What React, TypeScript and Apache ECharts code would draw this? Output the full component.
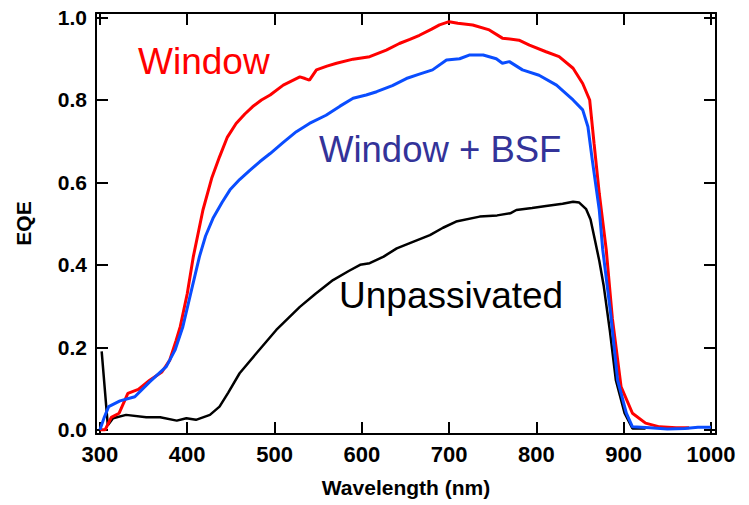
import React, { useEffect, useRef } from "react";
import * as echarts from "echarts";

const xTicks = [300, 400, 500, 600, 700, 800, 900, 1000];
const yTicks = [0, 0.2, 0.4, 0.6, 0.8, 1.0];

const windowData: [number, number][] = [
  [300, 0], [306, 0.0], [313, 0.03], [322, 0.04], [332, 0.088], [344, 0.098], [357, 0.12],
  [371, 0.14], [380, 0.169], [387, 0.215], [392, 0.25], [400, 0.33], [407, 0.42], [418, 0.533],
  [428, 0.61], [437, 0.662], [446, 0.71], [456, 0.743], [466, 0.766], [475, 0.784], [485, 0.8],
  [495, 0.812], [510, 0.836], [529, 0.856], [535, 0.852], [540, 0.848], [548, 0.873], [560, 0.882],
  [571, 0.889], [590, 0.899], [609, 0.905], [628, 0.921], [643, 0.937], [655, 0.947], [666, 0.957],
  [680, 0.972], [689, 0.982], [700, 0.99], [710, 0.986], [727, 0.982], [746, 0.97], [761, 0.95],
  [780, 0.945], [792, 0.933], [811, 0.917], [826, 0.905], [842, 0.877], [853, 0.84], [861, 0.8],
  [866, 0.695], [872, 0.573], [880, 0.436], [887, 0.27], [897, 0.104], [910, 0.04], [925, 0.016],
  [941, 0.007], [960, 0.005], [975, 0.005],
];

const bsfData: [number, number][] = [
  [300, 0], [305, 0.03], [310, 0.056], [323, 0.07], [340, 0.08], [357, 0.116], [376, 0.153],
  [386, 0.193], [395, 0.25], [405, 0.34], [414, 0.42], [421, 0.47], [430, 0.515], [440, 0.552],
  [449, 0.582], [460, 0.607], [472, 0.63], [483, 0.65], [495, 0.67], [510, 0.697], [525, 0.723],
  [540, 0.743], [559, 0.763], [575, 0.785], [590, 0.804], [605, 0.812], [617, 0.82], [635, 0.835],
  [651, 0.852], [665, 0.862], [681, 0.873], [697, 0.897], [712, 0.9], [723, 0.909], [739, 0.909],
  [754, 0.9], [761, 0.889], [769, 0.893], [784, 0.873], [803, 0.86], [823, 0.836], [842, 0.8],
  [853, 0.776], [859, 0.735], [864, 0.654], [872, 0.533], [876, 0.436], [885, 0.282], [893, 0.12],
  [903, 0.04], [910, 0.007], [930, 0.005], [950, 0.002], [970, 0.003], [985, 0.006], [1000, 0.006],
];

const unpassivatedData: [number, number][] = [
  [302, 0.19], [309, 0.011], [315, 0.028], [330, 0.036], [353, 0.03], [369, 0.03], [388, 0.022],
  [399, 0.028], [410, 0.024], [426, 0.036], [437, 0.056], [447, 0.09], [460, 0.137], [479, 0.185],
  [502, 0.242], [529, 0.298], [547, 0.33], [567, 0.363], [585, 0.385], [598, 0.4], [609, 0.404],
  [625, 0.42], [640, 0.44], [660, 0.457], [678, 0.472], [693, 0.49], [708, 0.505], [735, 0.517],
  [755, 0.52], [770, 0.525], [777, 0.533], [795, 0.538], [811, 0.543], [830, 0.548], [842, 0.553],
  [849, 0.551], [857, 0.535], [862, 0.51], [867, 0.46], [872, 0.41], [877, 0.35], [884, 0.242],
  [891, 0.12], [901, 0.04], [910, 0.003], [925, 0.003],
];

const FONT = "'Liberation Sans', Arial, sans-serif";

export default function App() {
  const ref = useRef<HTMLDivElement>(null);
  useEffect(() => {
    if (!ref.current) return;
    const chart = echarts.init(ref.current, null, { renderer: "svg" });
    const xMin = 295.5;
    const xMax = 1005.7;
    const yMin = -0.0104;
    const yMax = 1.011;
    const axisLine = { show: true, onZero: false, lineStyle: { color: "#000", width: 2 } };
    const tick = { show: true, inside: true, length: 12, lineStyle: { color: "#000", width: 2 } };
    chart.setOption({
      animation: false,
      backgroundColor: "#fff",
      grid: { left: 96, right: 33, top: 13, bottom: 71, containLabel: false },
      xAxis: [
        {
          type: "value", min: xMin, max: xMax, position: "bottom",
          axisLine, splitLine: { show: false },
          axisTick: { ...tick, customValues: xTicks },
          axisLabel: {
            customValues: xTicks, margin: 9, color: "#000",
            fontFamily: FONT, fontWeight: "bold", fontSize: 22,
            formatter: (v: number) => String(Math.round(v)),
          },
          name: "Wavelength (nm)", nameLocation: "middle", nameGap: 43,
          nameTextStyle: { fontFamily: FONT, fontWeight: "bold", fontSize: 21, color: "#000" },
        },
        {
          type: "value", min: xMin, max: xMax, position: "top",
          axisLine, splitLine: { show: false },
          axisTick: { ...tick, customValues: xTicks },
          axisLabel: { show: false },
        },
      ],
      yAxis: [
        {
          type: "value", min: yMin, max: yMax, position: "left",
          axisLine, splitLine: { show: false },
          axisTick: { ...tick, customValues: yTicks },
          axisLabel: {
            customValues: yTicks, margin: 9, color: "#000",
            fontFamily: FONT, fontWeight: "bold", fontSize: 21,
            formatter: (v: number) => v.toFixed(1),
          },
          name: "EQE", nameLocation: "middle", nameGap: 62, nameRotate: 90,
          nameTextStyle: { fontFamily: FONT, fontWeight: "bold", fontSize: 21, color: "#000" },
        },
        {
          type: "value", min: yMin, max: yMax, position: "right",
          axisLine, splitLine: { show: false },
          axisTick: { ...tick, customValues: yTicks },
          axisLabel: { show: false },
        },
      ],
      series: [
        {
          name: "Unpassivated", type: "line", data: unpassivatedData, showSymbol: false,
          lineStyle: { color: "#000", width: 2.5 }, xAxisIndex: 0, yAxisIndex: 0,
        },
        {
          name: "Window", type: "line", data: windowData, showSymbol: false,
          lineStyle: { color: "#ff0000", width: 3 }, xAxisIndex: 0, yAxisIndex: 0,
        },
        {
          name: "Window + BSF", type: "line", data: bsfData, showSymbol: false,
          lineStyle: { color: "#0a4dff", width: 3 }, xAxisIndex: 0, yAxisIndex: 0,
        },
      ],
      graphic: [
        { type: "text", x: 138, y: 61, style: { text: "Window", font: `37px ${FONT}`, fill: "#ff0000", textVerticalAlign: "middle" } },
        { type: "text", x: 319, y: 149, style: { text: "Window + BSF", font: `36.5px ${FONT}`, fill: "#333399", textVerticalAlign: "middle" } },
        { type: "text", x: 339, y: 295, style: { text: "Unpassivated", font: `37px ${FONT}`, fill: "#000", textVerticalAlign: "middle" } },
      ],
    });
    return () => chart.dispose();
  }, []);
  return <div ref={ref} style={{ width: 749, height: 505, position: "absolute", left: 0, top: 0 }} />;
}
